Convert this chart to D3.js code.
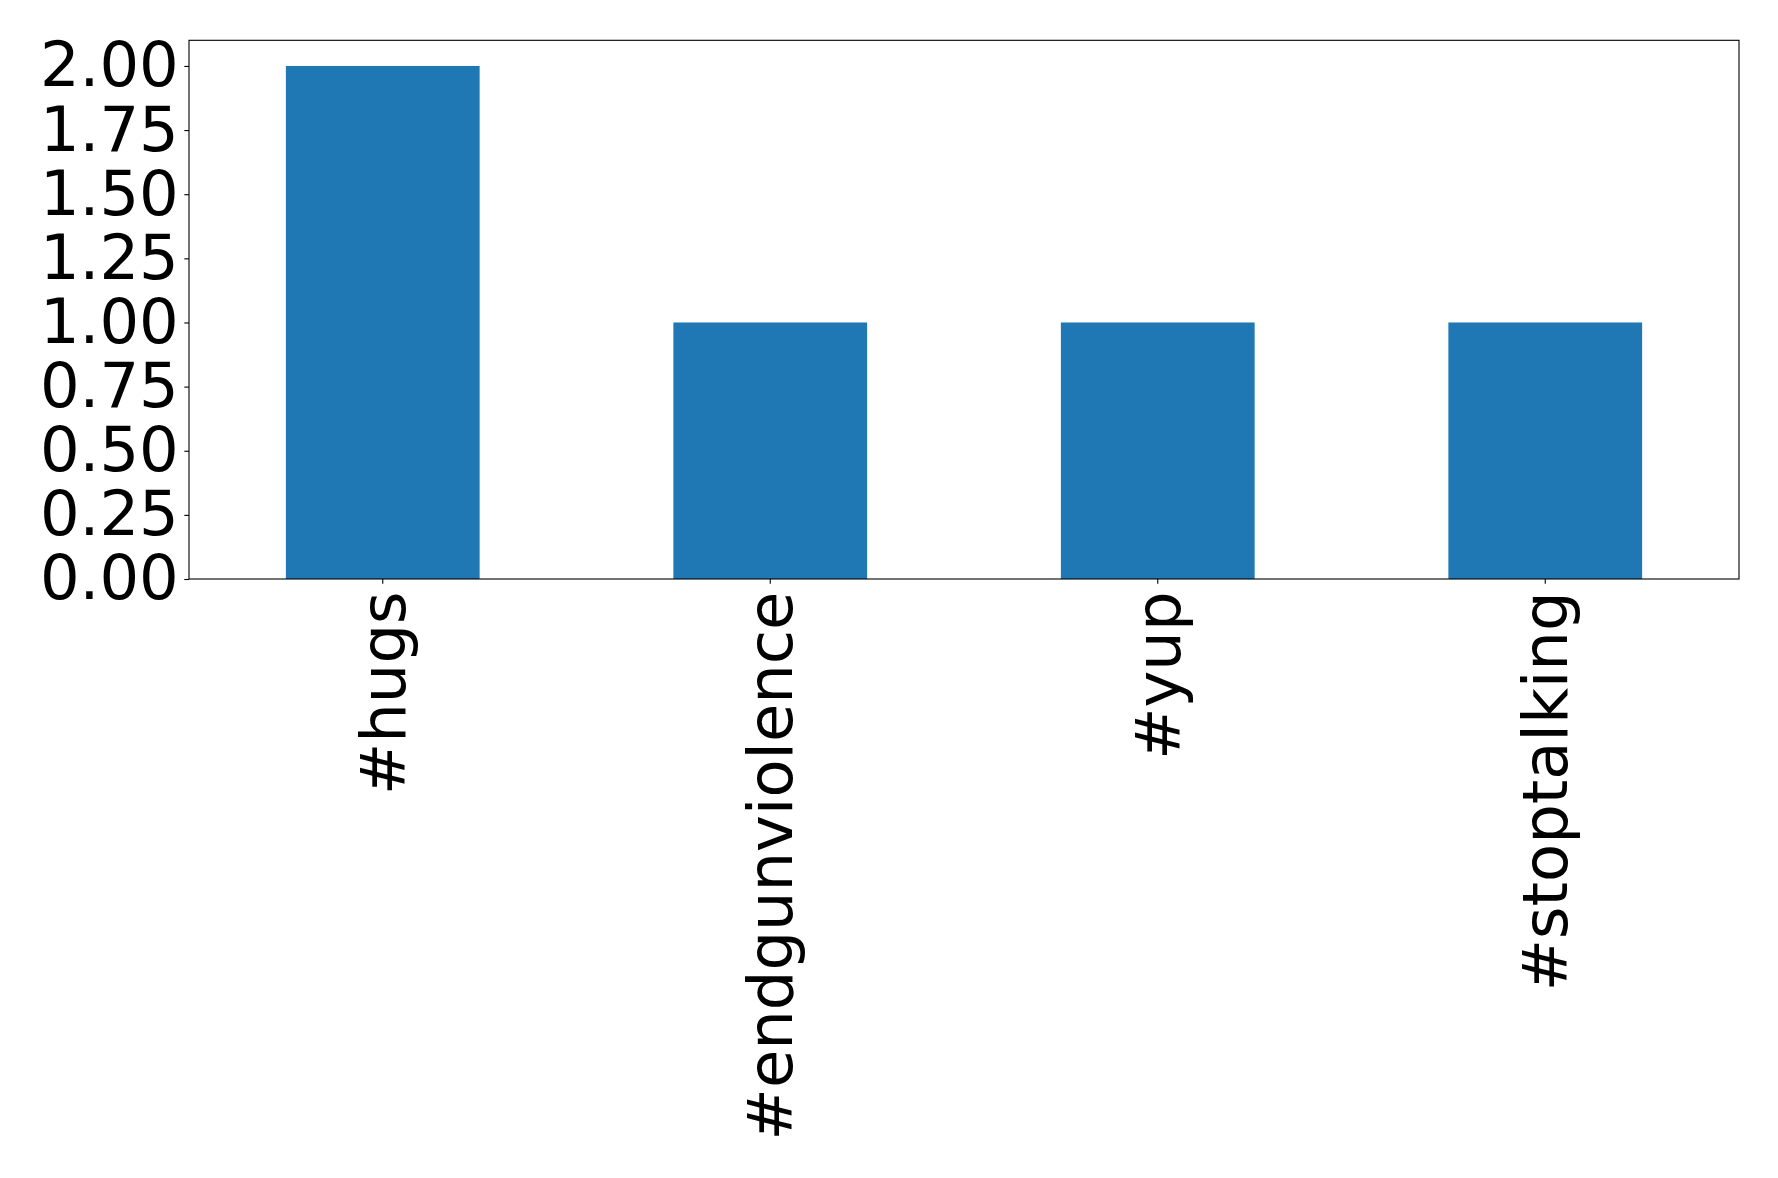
<!DOCTYPE html>
<html><head><meta charset="utf-8">
<script src="https://cdn.jsdelivr.net/npm/d3@7"></script>
<style>html,body{margin:0;padding:0;background:#fff;}svg{display:block;}</style>
</head><body>
<svg id="c" width="1778" height="1178"></svg>
<script>
const categories = ["#hugs", "#endgunviolence", "#yup", "#stoptalking"];
const values = [2, 1, 1, 1];
const yTicks = [0, 0.25, 0.5, 0.75, 1.0, 1.25, 1.5, 1.75, 2.0];

const svg = d3.select("#c");
const L = 189, R = 1739, T = 40.3, B = 579;
const font = "DejaVu Sans";
const fs = 62.4;

const x = d3.scaleBand().domain(categories).range([L, R]).paddingInner(0.5).paddingOuter(0.25);
const y = d3.scaleLinear().domain([0, 2.1]).range([B, T]);

svg.append("g").selectAll("rect").data(values).join("rect")
  .attr("x", (d, i) => x(categories[i]))
  .attr("width", x.bandwidth())
  .attr("y", d => y(d))
  .attr("height", d => y(0) - y(d))
  .attr("fill", "#1f77b4");

svg.append("rect").attr("x", L).attr("y", T).attr("width", R - L).attr("height", B - T)
  .attr("fill", "none").attr("stroke", "#000").attr("stroke-width", 1.1);

const yAxis = svg.append("g").attr("transform", `translate(${L},0)`)
  .call(d3.axisLeft(y).tickValues(yTicks).tickFormat(d3.format(".2f")).tickSize(4.7).tickPadding(5.5));
yAxis.select(".domain").remove();
yAxis.selectAll("text").attr("font-family", font).attr("font-size", fs).attr("fill", "#000");
yAxis.selectAll("line").attr("stroke", "#000").attr("stroke-width", 1.1);

const xAxis = svg.append("g").attr("transform", `translate(0,${B})`)
  .call(d3.axisBottom(x).tickSize(4.7).tickPadding(4.7));
xAxis.select(".domain").remove();
xAxis.selectAll("line").attr("stroke", "#000").attr("stroke-width", 1.1);
xAxis.selectAll("text")
  .attr("font-family", font).attr("font-size", fs).attr("fill", "#000")
  .attr("text-anchor", "end")
  .attr("transform", "translate(0,12.5) rotate(-90)")
  .attr("x", 0).attr("y", 0).attr("dy", "0.35em");
</script>
</body></html>
